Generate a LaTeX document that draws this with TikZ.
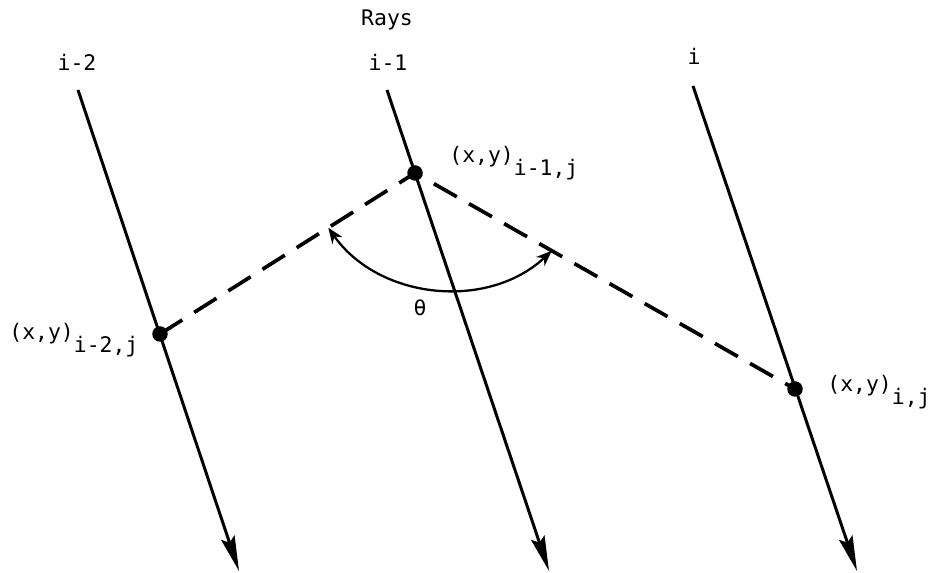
\documentclass[tikz,border=0pt]{standalone}
\usepackage{fontspec}
\setmonofont{DejaVu Sans Mono}
\usepackage{tikz}
\usetikzlibrary{calc, arrows.meta}

\newcommand{\lowsub}[1]{\raisebox{-0.6em}{#1}}

\begin{document}
\begin{tikzpicture}[x=0.02cm,y=-0.02cm]
          \tikzstyle{dot}=[circle,fill=black,inner sep=0pt,minimum size=0.31cm]
          \tikzstyle{lbl}=[inner sep=0pt,font=\ttfamily\fontsize{12.2}{14}\selectfont]
          \tikzstyle{ray}=[draw,line width=1.7pt,-{Stealth[length=20pt,width=8pt,inset=3pt]}]
          \tikzstyle{chord}=[draw,line width=2.1pt,dash pattern=on 15pt off 8pt]
          \tikzstyle{angarc}=[draw,line width=1.3pt,{Stealth[length=9pt,width=7pt]}-{Stealth[length=9pt,width=7pt]}]
          \useasboundingbox (0,0) rectangle (929,573);
          \coordinate (t1) at (78,90);
          \coordinate (b1) at (239,571);
          \coordinate (t2) at (387,90);
          \coordinate (b2) at (549,571);
          \coordinate (t3) at (693,86);
          \coordinate (b3) at (857,571);
          \node[lbl] (rays) at (387,20) {Rays};
          \node[lbl] (n1) at (77,62) {i-2};
          \node[lbl] (n2) at (388,62) {i-1};
          \node[lbl] (n3) at (694,56) {i};
          \foreach \r in {1,2,3}
            \draw[ray] (t\r) -- (b\r);
          \node[dot] (d1) at (160,334) {};
          \node[dot] (d2) at (415,173) {};
          \node[dot] (d3) at (795,389) {};
          \draw[chord] (d1.center) -- (d2.center) -- (d3.center);
          \coordinate (a1) at ($(d2)!0.34!(d1)$);
          \coordinate (a2) at ($(d2)!0.36!(d3)$);
          \draw[angarc] (a1) to[bend right=49] (a2);
          \node[lbl] (th) at (420,308) {θ};
          \node[lbl,anchor=base west] (p1) at (9,340) {(x,y)\lowsub{i-2,j}};
          \node[lbl,anchor=base west] (p2) at (449,163) {(x,y)\lowsub{i-1,j}};
          \node[lbl,anchor=base west] (p3) at (827,392) {(x,y)\lowsub{i,j}};
        \end{tikzpicture}
\end{document}
